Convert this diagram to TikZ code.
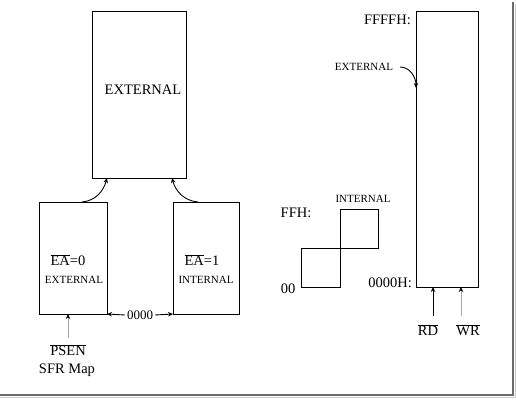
\documentclass[tikz,border=0pt]{standalone}
\usepackage{fontspec}
\setmainfont{Liberation Serif}
\usetikzlibrary{arrows.meta,calc}
\tikzset{
  box/.style={draw, line width=1pt, anchor=north west, inner sep=0pt, outer sep=0pt},
  lbl/.style={inner sep=0pt, font=\fontsize{14.5}{16}\selectfont},
  small/.style={inner sep=0pt, font=\fontsize{11}{12}\selectfont},
  arr/.style={line width=0.9pt, -{Stealth[length=5pt,width=4.5pt]}},
  garr/.style={line width=0.9pt, draw=gray!70, -{Stealth[length=5pt,width=4.5pt,color=black]}},
}
\begin{document}
\begin{tikzpicture}[x=1pt,y=-1pt]
\useasboundingbox (0,0) rectangle (516,404);
% frame shadow
\draw[line width=2pt, gray!85!black] (513,2) -- (513,395) -- (0,395);
\draw[line width=1pt, gray!40] (515,4) -- (515,397) -- (0,397);
% left part
\node[box, minimum width=94pt, minimum height=166pt] (ext) at (92,12) {};
\node[lbl] at (143,90) {EXTERNAL};
\node[box, minimum width=68pt, minimum height=112pt] (lbox) at (39,202) {};
\node[box, minimum width=66pt, minimum height=112pt] (rbox) at (173,202) {};
\node[lbl] at (68,260) {$\overline{\mbox{EA}}$=0};
\node[small] at (74,280) {EXTERNAL};
\node[lbl] at (202,260) {$\overline{\mbox{EA}}$=1};
\node[small] at (206,280) {INTERNAL};
\coordinate (la) at (82,202);
\coordinate (lh) at (107,178);
\coordinate (ra) at (198,202);
\coordinate (rh) at (172,178);
\draw[arr] (la) to[out=5,in=-105] (lh);
\draw[arr] (ra) to[out=175,in=-75] (rh);
\node[inner sep=2pt, font=\fontsize{13}{14}\selectfont] (zero) at (140,315) {0000};
\draw[arr] (zero.west) -- (lbox.south east);
\draw[arr] (zero.east) -- (rbox.south west);
\node[lbl] (psen) at (68,350) {$\overline{\mbox{PSEN}}$};
\node[lbl] (sfr) at (67,370) {SFR Map};
\coordinate (ps) at (68,338);
\draw[garr] (ps) -- (ps |- lbox.south);
% right part
\node[box, minimum width=62pt, minimum height=275pt] (mem) at (416,12) {};
\node[lbl, anchor=east] (ffff) at (411,20) {FFFFH:};
\node[small] (ext2) at (364,67) {EXTERNAL};
\coordinate (es) at (400,67);
\coordinate (eh) at (416,88);
\draw[arr] (es) to[out=0,in=90] (eh);
\node[small] (int2) at (363,199) {INTERNAL};
\node[lbl] (ffh) at (296,213) {FFH:};
\node[lbl] (zz) at (288,289) {00};
\node[lbl, anchor=east] (h0) at (412,283) {0000H:};
\draw[line width=1pt] (301,248) -- (378,248) -- (378,209) -- (340,209) -- (340,287) -- (301,287) -- cycle;
\node[lbl] (rd) at (428,330) {$\overline{\mbox{RD}}$};
\node[lbl] (wr) at (468,330) {$\overline{\mbox{WR}}$};
\coordinate (rds) at (433,316);
\coordinate (wrs) at (461,316);
\draw[arr] (rds) -- (rds |- mem.south);
\draw[garr] (wrs) -- (wrs |- mem.south);
\end{tikzpicture}
\end{document}
